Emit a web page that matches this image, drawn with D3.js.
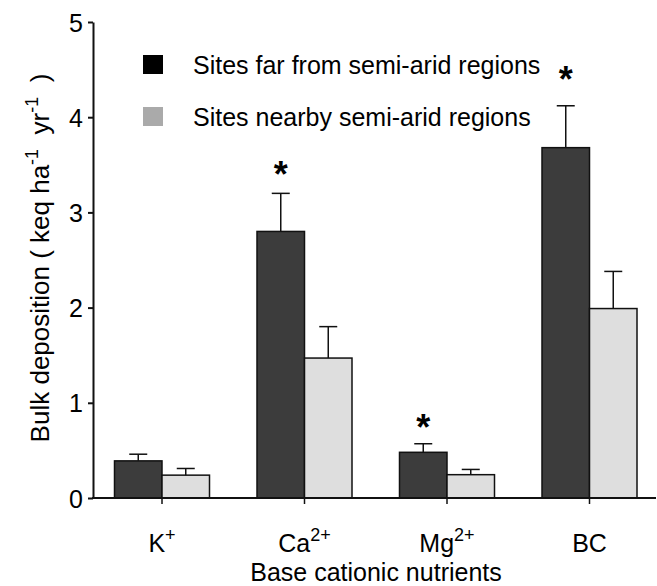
<!DOCTYPE html>
<html><head><meta charset="utf-8">
<script src="https://cdn.jsdelivr.net/npm/d3@7"></script>
<style>body{margin:0;background:#fff}svg{display:block}text{font-family:"Liberation Sans",Arial,sans-serif;fill:#000}</style>
</head><body><svg id="c" width="657" height="586"></svg>
<script>
const categories = ["K", "Ca", "Mg", "BC"];
const catSup = ["+", "2+", "2+", ""];
const seriesNames = ["Sites far from semi-arid regions", "Sites nearby semi-arid regions"];
const farValues = [0.39, 2.80, 0.48, 3.68];
const farErr = [0.07, 0.40, 0.09, 0.44];
const nearValues = [0.24, 1.47, 0.245, 1.99];
const nearErr = [0.07, 0.33, 0.055, 0.39];
const sigStar = [null, 3.48, 0.82, 4.48];
const yTicks = [0, 1, 2, 3, 4, 5];

const svg = d3.select("#c");
const fs = 25;
const x0 = 93, xEnd = 656, yTop = 22, yBase = 498;
const x = d3.scaleBand().domain(categories).range([90.75, 660.75]).padding(0);
const barW = 47.5;
const y = d3.scaleLinear().domain([0, 5]).range([yBase, yTop]);
const colors = ["#3c3c3c", "#dedede"];
const legendColors = ["#000000", "#aaaaaa"];

const series = [
  {vals: farValues, err: farErr},
  {vals: nearValues, err: nearErr}
];

series.forEach((s, si) => {
  const g = svg.append("g");
  g.selectAll("rect").data(categories).join("rect")
    .attr("x", d => x(d) + x.bandwidth()/2 - barW + si*barW)
    .attr("y", (d,i) => y(s.vals[i]))
    .attr("width", barW)
    .attr("height", (d,i) => yBase - y(s.vals[i]))
    .attr("fill", colors[si]).attr("stroke", "#111").attr("stroke-width", 1.5);
  g.selectAll("line.e").data(categories).join("line")
    .attr("x1", d => x(d) + x.bandwidth()/2 - barW/2 + si*barW)
    .attr("x2", d => x(d) + x.bandwidth()/2 - barW/2 + si*barW)
    .attr("y1", (d,i) => y(s.vals[i]))
    .attr("y2", (d,i) => y(s.vals[i] + s.err[i]))
    .attr("stroke", "#111").attr("stroke-width", 1.5);
  g.selectAll("line.c").data(categories).join("line")
    .attr("x1", d => x(d) + x.bandwidth()/2 - barW/2 + si*barW - 9)
    .attr("x2", d => x(d) + x.bandwidth()/2 - barW/2 + si*barW + 9)
    .attr("y1", (d,i) => y(s.vals[i] + s.err[i]))
    .attr("y2", (d,i) => y(s.vals[i] + s.err[i]))
    .attr("stroke", "#111").attr("stroke-width", 1.5);
});

const starFs = 36;
categories.forEach((c, i) => {
  if (sigStar[i] == null) return;
  svg.append("text").attr("x", x(c) + x.bandwidth()/2 - barW/2)
    .attr("y", y(sigStar[i]) + 0.57*starFs)
    .attr("text-anchor", "middle").attr("font-size", starFs).attr("font-weight", "bold")
    .text("*");
});

const yAxis = d3.axisLeft(y).tickValues(yTicks).tickFormat(d3.format("d")).tickSize(5).tickSizeOuter(0).tickPadding(5);
const ga = svg.append("g").attr("transform", `translate(${x0},0)`).call(yAxis);
ga.select(".domain").attr("stroke", "#111").attr("stroke-width", 2);
ga.selectAll(".tick line").attr("stroke", "#111").attr("stroke-width", 2);
ga.selectAll(".tick text").attr("font-size", fs).attr("font-family", "Liberation Sans, Arial, sans-serif").attr("fill", "#000").attr("dy", "0.36em");

const xAxis = d3.axisBottom(x).tickSize(6).tickSizeOuter(0).tickFormat("");
const gx = svg.append("g").attr("transform", `translate(0,${yBase})`).call(xAxis);
gx.select(".domain").remove();
gx.selectAll(".tick line").attr("stroke", "#111").attr("stroke-width", 1.5);
svg.append("line").attr("x1", x0 - 1).attr("x2", xEnd).attr("y1", yBase).attr("y2", yBase)
  .attr("stroke", "#111").attr("stroke-width", 2);

categories.forEach((c, i) => {
  const t = svg.append("text").attr("x", x(c) + x.bandwidth()/2).attr("y", 552)
    .attr("text-anchor", "middle").attr("font-size", fs);
  t.append("tspan").text(c);
  if (catSup[i]) t.append("tspan").attr("dy", -11).attr("font-size", 18).text(catSup[i]);
});

svg.append("text").attr("x", 376).attr("y", 581).attr("text-anchor", "middle")
  .attr("font-size", fs).text("Base cationic nutrients");

const yt = svg.append("text").attr("transform", "translate(49,258) rotate(-90)")
  .attr("text-anchor", "middle").attr("font-size", 26);
yt.append("tspan").text("Bulk deposition ( keq ha");
yt.append("tspan").attr("dy", -11).attr("font-size", 18).text("-1");
yt.append("tspan").attr("dy", 11).text("\u00a0\u00a0yr");
yt.append("tspan").attr("dy", -11).attr("font-size", 18).text("-1");
yt.append("tspan").attr("dy", 11).text("\u00a0\u00a0)");

const legY = [55, 107];
seriesNames.forEach((n, i) => {
  svg.append("rect").attr("x", 143).attr("y", legY[i]).attr("width", 20).attr("height", 19)
    .attr("fill", legendColors[i]);
  svg.append("text").attr("x", 193).attr("y", legY[i] + 19).attr("font-size", fs).text(n);
});
</script></body></html>
